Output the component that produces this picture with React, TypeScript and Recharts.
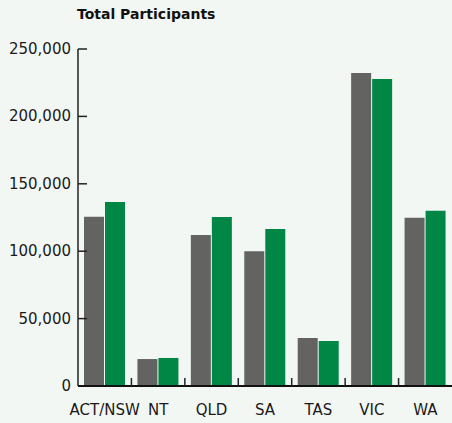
import React from "react";
import { BarChart, Bar, XAxis, YAxis } from "recharts";

const categories = ["ACT/NSW", "NT", "QLD", "SA", "TAS", "VIC", "WA"];
const greySeries = [125500, 20000, 112000, 100000, 35600, 232200, 124800];
const greenSeries = [136500, 20800, 125400, 116500, 33400, 227700, 130000];
const yTicks = [0, 50000, 100000, 150000, 200000, 250000];

const data = categories.map((c, i) => ({ name: c, a: greySeries[i], b: greenSeries[i] }));

const W = 452;
const H = 423;
const LEFT = 78;
const TOP = 49;
const BOTTOM = 37;
const FONT = "'DejaVu Sans', sans-serif";
const BAND = (W - LEFT) / categories.length;

const XTick = (props: any) => {
  const { x, y, payload, index } = props;
  return (
    <g>
      {index > 0 && (
        <line x1={x - BAND / 2} x2={x - BAND / 2} y1={y - 8} y2={y} stroke="#222" strokeWidth={1.5} />
      )}
      <text x={x} y={y + 29} textAnchor="middle" fontFamily={FONT} fontSize={15} fill="#1a1a1a">
        {payload.value}
      </text>
    </g>
  );
};

const YTick = (props: any) => {
  const { x, y, payload } = props;
  return (
    <g>
      {payload.value !== 0 && (
        <line x1={x} x2={x + 9} y1={y} y2={y} stroke="#222" strokeWidth={1.5} />
      )}
      <text x={x - 7} y={y + 5} textAnchor="end" fontFamily={FONT} fontSize={15} fill="#1a1a1a">
        {payload.value.toLocaleString("en-US")}
      </text>
    </g>
  );
};

export default function App() {
  return (
    <div style={{ position: "absolute", left: 0, top: 0, width: W, height: H, background: "#f3f7f4", overflow: "hidden" }}>
      <div
        style={{
          position: "absolute",
          left: 77,
          top: 6,
          fontFamily: FONT,
          fontWeight: "bold",
          fontSize: 14,
          color: "#111",
        }}
      >
        Total Participants
      </div>
      <BarChart
        width={W}
        height={H}
        data={data}
        margin={{ top: TOP, right: 0, bottom: 0, left: 0 }}
        barSize={20}
        barGap={1}
      >
        <XAxis
          dataKey="name"
          axisLine={{ stroke: "#111", strokeWidth: 2 }}
          tickLine={false}
          tickSize={0}
          tickMargin={0}
          tick={<XTick />}
          interval={0}
          height={BOTTOM}
        />
        <YAxis
          domain={[0, 250000]}
          ticks={yTicks}
          width={LEFT}
          axisLine={{ stroke: "#222", strokeWidth: 1.5 }}
          tickLine={false}
          tickSize={0}
          tickMargin={0}
          tick={<YTick />}
          interval={0}
        />
        <Bar dataKey="a" fill="#636361" isAnimationActive={false} />
        <Bar dataKey="b" fill="#008746" isAnimationActive={false} />
      </BarChart>
    </div>
  );
}
